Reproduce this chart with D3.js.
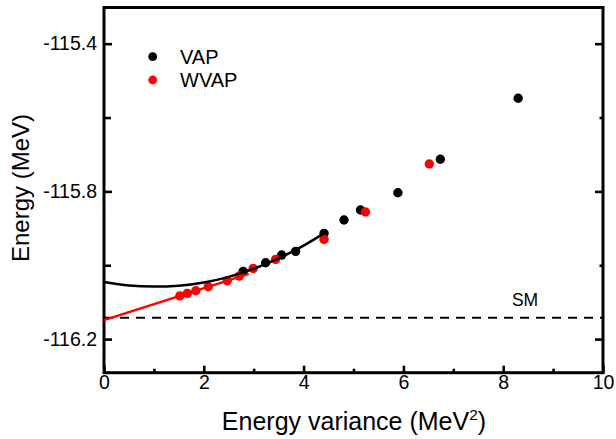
<!DOCTYPE html>
<html>
<head>
<meta charset="utf-8">
<script src="https://cdn.jsdelivr.net/npm/d3@7"></script>
<style>
  html, body { margin: 0; padding: 0; background: #fff; }
  svg { display: block; font-family: Arial, "Liberation Sans", sans-serif; }
</style>
</head>
<body>
<svg id="chart" width="616" height="439"></svg>
<script>
// ---- data ----
const vapVariance = [2.79, 3.24, 3.56, 3.84, 4.41, 4.81, 5.14, 5.89, 6.74, 8.30];
const vapEnergy   = [-116.0166, -115.9933, -115.9724, -115.9624, -115.9136, -115.8776, -115.8505, -115.8036, -115.7129, -115.5479];

const wvapVariance = [1.52, 1.67, 1.84, 2.09, 2.47, 2.71, 2.99, 3.44, 4.41, 5.24, 6.52];
const wvapEnergy   = [-116.083, -116.0762, -116.0691, -116.0583, -116.042, -116.0293, -116.0085, -115.9841, -115.9304, -115.8559, -115.7259];

// extrapolation curves
const vapFitVariance = [0, 0.5, 1.0, 1.5, 2.0, 2.5, 3.0, 3.5, 4.0, 4.41];
const vapFitEnergy   = [-116.0456, -116.0548, -116.0578, -116.0555, -116.0469, -116.0314, -116.0095, -115.9813, -115.9468, -115.9137];
const wvapFitVariance = [0, 2.9];
const wvapFitEnergy   = [-116.1485, -116.0235];

const smEnergy = -116.142;

const xTicks = [0, 2, 4, 6, 8, 10];
const xMinorTicks = [1, 3, 5, 7, 9];
const yTicks = [-116.2, -115.8, -115.4];
const yMinorTicks = [-116.0, -115.6];

const seriesNames = ["VAP", "WVAP"];
const seriesColors = ["#000000", "#ff0000"];

// ---- layout ----
const svg = d3.select("#chart");
const L = 104, R = 603, T = 7.5, B = 372.7;

const x = d3.scaleLinear().domain([0, 10]).range([L, R]);
const y = d3.scaleLinear().domain([-116.291, -115.302]).range([B, T]);

const fmtY = d => d.toFixed(1);

// axes: bottom
svg.append("g").attr("transform", `translate(0,${B})`)
  .call(d3.axisBottom(x).tickValues(xTicks).tickSizeInner(-7).tickSizeOuter(0).tickPadding(2.5).tickFormat(d3.format("d")));
svg.append("g").attr("transform", `translate(0,${B})`)
  .call(d3.axisBottom(x).tickValues(xMinorTicks).tickSizeInner(-4).tickSizeOuter(0).tickFormat(""));
// left
svg.append("g").attr("transform", `translate(${L},0)`)
  .call(d3.axisLeft(y).tickValues(yTicks).tickSizeInner(-8).tickSizeOuter(0).tickPadding(7).tickFormat(fmtY));
svg.append("g").attr("transform", `translate(${L},0)`)
  .call(d3.axisLeft(y).tickValues(yMinorTicks).tickSizeInner(-7).tickSizeOuter(0).tickFormat(""));
// right
svg.append("g").attr("transform", `translate(${R},0)`)
  .call(d3.axisRight(y).tickValues(yTicks).tickSizeInner(-8).tickSizeOuter(0).tickFormat(""));
svg.append("g").attr("transform", `translate(${R},0)`)
  .call(d3.axisRight(y).tickValues(yMinorTicks).tickSizeInner(-3.5).tickSizeOuter(0).tickFormat(""));

svg.selectAll(".domain").remove();
svg.selectAll(".tick line").attr("stroke", "#000").attr("stroke-width", 2.6);
svg.selectAll(".tick text").attr("fill", "#000").attr("font-size", "19.5px")
  .attr("font-family", "Arial, 'Liberation Sans', sans-serif");

// frame
svg.append("rect").attr("x", L).attr("y", T).attr("width", R - L).attr("height", B - T)
  .attr("fill", "none").attr("stroke", "#000").attr("stroke-width", 3);

// SM dashed line
svg.append("line")
  .attr("x1", x(0)).attr("x2", x(10)).attr("y1", y(smEnergy)).attr("y2", y(smEnergy))
  .attr("stroke", "#000").attr("stroke-width", 2).attr("stroke-dasharray", "9,7");
svg.append("text").attr("x", 525).attr("y", 306).attr("text-anchor", "middle")
  .attr("font-size", "17.5px").text("SM");

// points
const vapPts = vapVariance.map((v, i) => [v, vapEnergy[i]]);
const wvapPts = wvapVariance.map((v, i) => [v, wvapEnergy[i]]);

svg.append("g").selectAll("circle").data(vapPts).join("circle")
  .attr("cx", d => x(d[0])).attr("cy", d => y(d[1])).attr("r", 4.7).attr("fill", seriesColors[0]);
svg.append("g").selectAll("circle").data(wvapPts).join("circle")
  .attr("cx", d => x(d[0])).attr("cy", d => y(d[1])).attr("r", 4.7).attr("fill", seriesColors[1]);

// fit lines
const line = d3.line().x(d => x(d[0])).y(d => y(d[1])).curve(d3.curveMonotoneX);
svg.append("path").datum(wvapFitVariance.map((v, i) => [v, wvapFitEnergy[i]]))
  .attr("d", line).attr("fill", "none").attr("stroke", seriesColors[1]).attr("stroke-width", 2.5);
svg.append("path").datum(vapFitVariance.map((v, i) => [v, vapFitEnergy[i]]))
  .attr("d", line).attr("fill", "none").attr("stroke", seriesColors[0]).attr("stroke-width", 2.5);

// legend
const legend = svg.append("g");
seriesNames.forEach((name, i) => {
  legend.append("circle").attr("cx", 152.7).attr("cy", 56.7 + i * 23.3).attr("r", 4.4).attr("fill", seriesColors[i]);
  legend.append("text").attr("x", 180).attr("y", 63.5 + i * 23.3).attr("font-size", "20px").text(name);
});

// axis titles
const xt = svg.append("text").attr("x", 354).attr("y", 429.5).attr("text-anchor", "middle").attr("font-size", "25px");
xt.append("tspan").text("Energy variance (MeV");
xt.append("tspan").attr("font-size", "15.5px").attr("dy", "-9.5").text("2");
xt.append("tspan").attr("dy", "9.5").text(")");

svg.append("text").attr("transform", "translate(29,188) rotate(-90)").attr("text-anchor", "middle")
  .attr("font-size", "24px").text("Energy (MeV)");
</script>
</body>
</html>
